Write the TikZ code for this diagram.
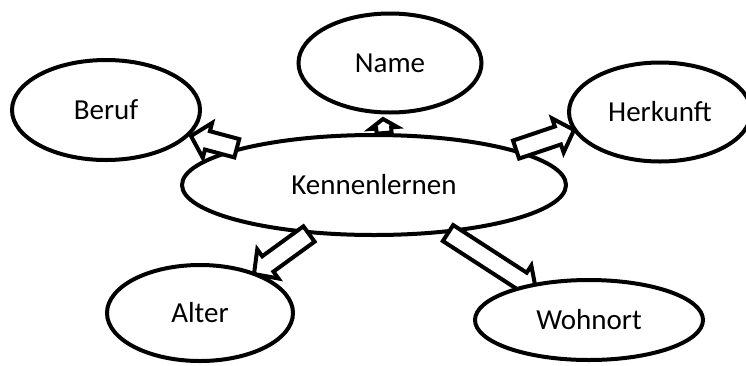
\documentclass[tikz,border=0pt]{standalone}
\usepackage{fontspec}
\setmainfont{Carlito}
\usetikzlibrary{shapes.geometric,calc}
\tikzset{
  bubble/.style={draw, ellipse, line width=4pt, fill=white, inner sep=0pt,
    font=\fontsize{29}{34}\selectfont},
  blockarrow/.style n args={3}{draw, fill=white, line width=4pt,
    to path={let \p1=(\tikztostart), \p2=(\tikztotarget),
      \n1={atan2(\y2-\y1,\x2-\x1)}, \n2={veclen(\x2-\x1,\y2-\y1)-#3} in
      ($(\p1)+({\n1+90}:#1)$) -- ($(\p1)+(\n1:\n2)+({\n1+90}:#1)$)
      -- ($(\p1)+(\n1:\n2)+({\n1+90}:#2)$) -- (\p2)
      -- ($(\p1)+(\n1:\n2)+({\n1-90}:#2)$) -- ($(\p1)+(\n1:\n2)+({\n1-90}:#1)$)
      -- ($(\p1)+({\n1-90}:#1)$) -- cycle}}
}
\begin{document}
\begin{tikzpicture}[x=1pt,y=-1pt]
    \useasboundingbox (0,0) rectangle (746,365);
    \node[bubble, minimum width=384pt, minimum height=100pt] (kenn) at (374,185) {Kennenlernen};
    % arrow tips
    \coordinate (beruf-tip) at (191,136);
    \coordinate (name-tip) at (383,119);
    \coordinate (herkunft-tip) at (574,130);
    \coordinate (alter-tip) at (254,274);
    \coordinate (wohnort-tip) at (536,290);
    \draw[blockarrow={9.5pt}{18pt}{17pt}] (kenn.165) to (beruf-tip);
    \draw[blockarrow={7.5pt}{13.5pt}{9pt}] (kenn.79) to (name-tip);
    \draw[blockarrow={9.5pt}{18pt}{17pt}] (kenn.14) to (herkunft-tip);
    \draw[blockarrow={9.5pt}{18pt}{17pt}] (kenn.217) to (alter-tip);
    \draw[blockarrow={9.5pt}{18pt}{17pt}] (kenn.327) to (wohnort-tip);
    \node[bubble, minimum width=188pt, minimum height=100pt] (beruf) at (106,110) {Beruf};
    \node[bubble, minimum width=183pt, minimum height=99pt] (name) at (390,63) {Name};
    \node[bubble, minimum width=182pt, minimum height=99pt] (herkunft) at (660,112) {Herkunft};
    \node[bubble, minimum width=186pt, minimum height=96pt] (alter) at (200,313) {Alter};
    \node[bubble, minimum width=228pt, minimum height=80pt] (wohnort) at (589,320) {Wohnort};
\end{tikzpicture}
\end{document}
